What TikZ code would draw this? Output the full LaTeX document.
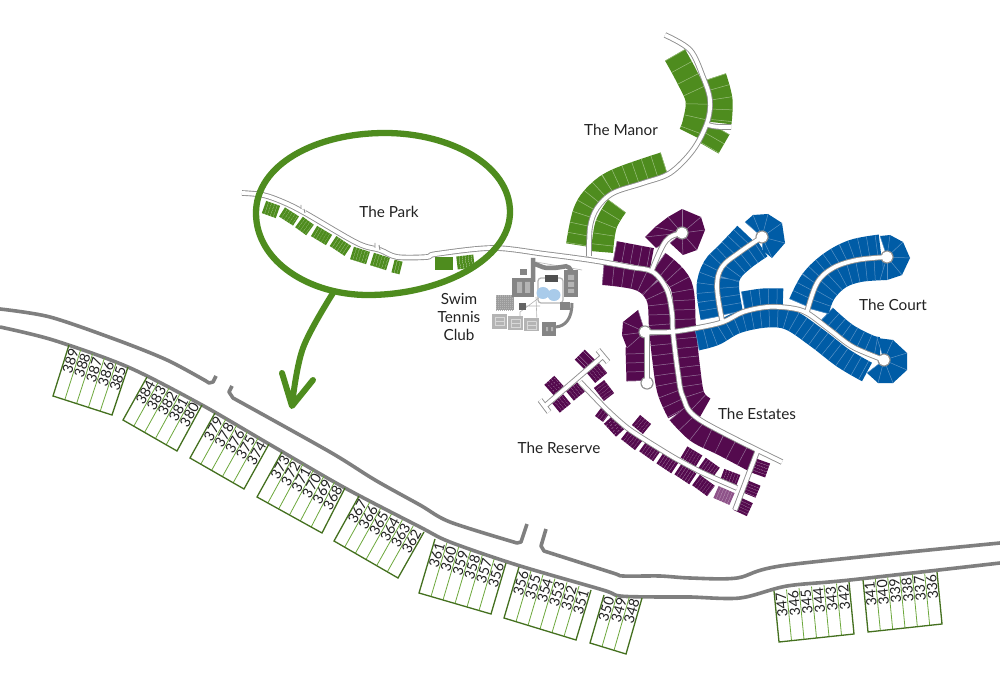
\documentclass[tikz,border=0pt]{standalone}
\usepackage{fontspec}
\setmainfont{Lato}
\usetikzlibrary{calc}
\definecolor{parkgreen}{HTML}{4E8C1E}
\definecolor{greendiv}{HTML}{9DC080}
\definecolor{lotedge}{HTML}{44701F}
\definecolor{lotdiv}{HTML}{6DA83C}
\definecolor{estate}{HTML}{540A4E}
\definecolor{estdiv}{HTML}{96749A}
\definecolor{lightest}{HTML}{8E5389}
\definecolor{court}{HTML}{005CA6}
\definecolor{courtdiv}{HTML}{5A93C6}
\definecolor{roadgray}{HTML}{7F7F7F}
\definecolor{thinroad}{HTML}{8F8F8F}
\definecolor{ink}{HTML}{222222}
\definecolor{club}{HTML}{858585}
\definecolor{clubmid}{HTML}{9C9C9C}
\definecolor{clublight}{HTML}{B4B4B4}
\definecolor{clubpale}{HTML}{D8D8D8}
\definecolor{pool}{HTML}{A9CBEA}
\tikzset{
  mainroad/.style={draw=roadgray,line width=3.6pt,line join=round},
  zone/.style={font=\fontsize{15.3}{18}\selectfont,text=ink,align=center,inner sep=0pt},
  lotnum/.style={font=\fontsize{14.2}{15}\selectfont,text=ink,inner sep=0pt,anchor=east},
  lotdivider/.style={draw=lotdiv,line width=.8pt},
  lotframe/.style={draw=lotedge,line width=1.3pt,line join=miter}
}
% numbered group of lots: top-left, top-right, bottom-right, bottom-left, labels
\newcommand{\lotgroup}[5]{%
  \coordinate (A) at (#1);\coordinate (B) at (#2);\coordinate (C) at (#3);\coordinate (D) at (#4);
  \foreach \lab [count=\c] in {#5}{\xdef\nlots{\c}}
  \foreach \lab [count=\c] in {#5}{
    \pgfmathsetmacro{\tA}{\c/\nlots}
    \pgfmathsetmacro{\tm}{(\c-.5)/\nlots}
    \ifnum\c<\nlots
      \draw[lotdivider] ($(A)!\tA!(B)$) -- ($(D)!\tA!(C)$);
    \fi
    \path let \p1=($(A)-(D)$), \n1={atan2(\y1,\x1)} in
      ($(A)!\tm!(B)$) coordinate (P) ($(D)!\tm!(C)$) coordinate (Q)
      node[lotnum,rotate=\n1] (n\lab) at ($(P)!2pt!(Q)$) {\lab};
  }
  \draw[lotframe] (A)--(D)--(C)--(B);
}
% band of lots along a spine: colour, divider, depth, spacing, coordinates
\newcommand{\strip}[5]{%
  \draw[line width=#3pt,#1] plot[smooth,tension=.6] coordinates {#5};
  \draw[line width=#3pt,#2,dash pattern=on .5pt off #4pt] plot[smooth,tension=.6] coordinates {#5};
}
% fan of lots round a cul-de-sac: colour, divider, centre, perimeter
\newcommand{\lotcap}[4]{%
  \fill[#1] #3 \foreach \p in {#4}{ -- \p } -- cycle;
  \foreach \p in {#4}{\draw[#2,line width=.5pt] #3 -- \p;}
}
% small striped lot
\newcommand{\stripelot}[4]{%
  \draw[#1,line width=#4pt,dash pattern=on 2.6pt off .45pt] (#2) -- (#3);
}
\def\roadpaths{
  plot[smooth,tension=.55] coordinates {(242,193) (263,195) (283,202) (305,213) (357,243) (380,250) (397,257) (427,257) (436,254) (493,248) (545,254) (590,260) (630,267) (653,272) (667,290) (672,313) (673,333) (678,373) (683,397) (700,420) (782,462)}
  plot[smooth,tension=.55] coordinates {(589,256) (590,227) (597,208) (613,193) (643,183) (670,173) (693,150) (707,123) (710,100) (703,77) (690,50) (665,35)}
  (708,125) .. controls (716,127) .. (731,127)
  plot[smooth,tension=.6] coordinates {(652,270) (662,247) (670,237) (682,233)}
  plot[smooth,tension=.55] coordinates {(645,332) (670,332) (697,328) (723,322) (743,312) (767,307) (790,308) (807,313) (830,330) (853,347) (884,360)}
  plot[smooth,tension=.6] coordinates {(722,320) (717,287) (722,267) (740,252) (762,237)}
  plot[smooth,tension=.6] coordinates {(807,312) (817,283) (833,268) (857,260) (887,257)}
  (647,332) -- (647,380)
  (598,350) -- (608,362) (603,356) -- (545,406) (540,400) -- (549,412)
  plot[smooth,tension=.4] coordinates {(580,382) (607,410) (630,430) (673,457) (703,473) (737,488)}
  (757,452) -- (735,510)
}
\def\culs{
  (762,237) circle[radius=\rr]
  (887,257) circle[radius=\rr]
  (884,360) circle[radius=\rr]
  (682,233) circle[radius=\rr]
  (645,332) circle[radius=\rr]
  (647,383) circle[radius=\rr]
}
\begin{document}
\begin{tikzpicture}[x=1pt,y=-1pt]
\useasboundingbox (0,0) rectangle (1000,700);
\fill[white] (0,0) rectangle (1000,700);

% --- The Manor
\strip{parkgreen}{greendiv}{23}{13}{(675,55) (687,77) (697,100) (694,123) (690,134)}
\strip{parkgreen}{greendiv}{23}{10.5}{(715,77) (721,100) (720,123)}
\strip{parkgreen}{greendiv}{22}{10}{(720,129) (709,148)}
\strip{parkgreen}{greendiv}{22}{9.5}{(664,163) (618,179) (597,193) (584,212) (577,245)}
\strip{parkgreen}{greendiv}{22}{10}{(617,206) (606,225) (602,252)}

% --- The Estates
\strip{estate}{estdiv}{20}{8}{(615,251) (652,258)}
\strip{estate}{estdiv}{22}{9.5}{(603,274) (640,280) (657,297) (660,327) (663,357) (668,390) (678,413)}
\strip{estate}{estdiv}{22}{12.5}{(678,413) (697,432) (723,445) (753,461)}
\strip{estate}{estdiv}{22}{9}{(659,262) (681,285) (685,328) (689,367) (694,397) (705,408)}
\lotcap{estate}{estdiv}{(682,233)}{(656,248),(645,237),(655,227),(668,217),(682,209),(701,217),(705,230),(697,250),(683,255),(670,243)}
\strip{estate}{estdiv}{19}{8.5}{(636,381) (635,347)}
\lotcap{estate}{estdiv}{(645,332)}{(645,348),(627,348),(622,335),(623,322),(638,310)}

% --- The Court
\strip{court}{courtdiv}{21}{8}{(697,340) (715,335) (737,323) (767,317) (790,320) (817,338) (843,358) (867,372)}
\strip{court}{courtdiv}{20}{8}{(826,315) (847,333) (870,345) (880,347)}
\lotcap{court}{courtdiv}{(884,360)}{(877,338),(893,340),(907,353),(907,370),(893,383),(878,383),(867,373)}
\strip{court}{courtdiv}{19}{8}{(743,301) (763,298) (783,298)}
\strip{court}{courtdiv}{21}{8}{(711,318) (707,288) (713,267) (727,252) (745,233)}
\strip{court}{courtdiv}{20}{8}{(733,313) (729,287) (732,273) (745,260) (762,248)}
\lotcap{court}{courtdiv}{(762,237)}{(745,222),(753,215),(768,214),(782,223),(785,243),(772,258),(762,250)}
\strip{court}{courtdiv}{21}{8}{(799,303) (811,280) (830,262) (853,250) (880,245)}
\strip{court}{courtdiv}{22}{8}{(818,311) (825,293) (840,278) (860,271) (887,269)}
\lotcap{court}{courtdiv}{(887,257)}{(880,236),(890,235),(903,242),(910,258),(902,275),(887,280),(880,280)}

% --- The Reserve
\foreach \xa/\ya/\xb/\yb/\w in {580/365/590/355/15, 591/378/603/368/13, 549/390/559/381/14, 570/396/581/387/12, 556/408/567/399/12,
  599/384/609/397/13, 598/412/606/418/10, 608/420/620/433/11, 636/420/647/429/13, 625/434/639/445/13, 643/446/657/456/13,
  660/458/675/468/13, 678/469/693/479/13, 696/480/711/491/13, 684/452/699/461/13, 702/463/716/473/13, 722/475/738/481/13,
  763/461/758/475/15, 754/483/749/495/14, 746/500/740/513/15}{
  \stripelot{estate}{\xa,\ya}{\xb,\yb}{\w}
}
\stripelot{lightest}{716,492}{732,499}{13}

% --- The Park lots
\foreach \xa/\ya/\xb/\yb/\w in {264/207/278/212/13, 282/212/296/221/11, 299/222/310/230/13, 314/231/329/240/12, 333/241/348/251/12,
  352/253/368/258/13, 372/259/388/264/13, 393/266/401/268/13, 435/264/453/264/13, 457/263/474/261/13}{
  \stripelot{parkgreen}{\xa,\ya}{\xb,\yb}{\w}
}

% --- Club
\fill[clubmid] (496,295) rectangle (514,310);
\foreach \i in {0,2,...,16}{\draw[clublight,line width=.7pt,dash pattern=on 1pt off 1pt] (496+\i,295.5) -- (496+\i,310);}
\foreach \x/\y/\wd/\ht in {492/314/15/15,508/316/15/14,524/318/15/12.5}{
  \fill[clublight] (\x,\y) rectangle ++(\wd,\ht);
  \draw[clubpale,line width=.7pt] (\x+3,\y+3) rectangle ++(9,8);
  \draw[clubpale,line width=.7pt] (\x+3,\y+7) -- ++(9,0);
}
\draw[clublight,line width=.6pt] (536,265) -- (536,262) -- (582,270) (540,297) -- (520,312) -- (520,318) (536,297) -- (537,322) (526,306) -- (540,306);
\draw[clublight,line width=1.2pt,rounded corners=3pt] (538,278) rectangle (563,303);
\draw[club,line width=4.5pt,rounded corners=2pt] (533,258) -- (533,282) (535,264) -- (545,268) -- (555,268) -- (568,266) -- (572,272);
\fill[club] (512,278) rectangle (534,297);
\fill[clublight] (517,282) rectangle (522,293) (525,282) rectangle (530,293);
\fill[club] (564,270) rectangle (578,297);
\fill[clublight] (568,275) rectangle (574,280) (568,282) rectangle (574,287) (568,289) rectangle (574,293);
\fill[pool] (543,293) ellipse[x radius=6.5,y radius=6] (554,295) ellipse[x radius=6.5,y radius=6];
\fill[club!60!black] (545,275) rectangle (558,282);
\fill[club] (520,269) rectangle (527,275);
\fill[club!75!black] (519,303) rectangle (526,310);
\fill[club] (560,302) rectangle (570,310);
\fill[club] (542,322) rectangle (556,336);
\fill[clublight] (546,327) rectangle (548,331) (551,327) rectangle (553,331);
\draw[club,line width=3pt] (556,327) .. controls (566,326) and (572,318) .. (572,303);

% --- Estate, Manor, Park roads
\def\rr{6.6}
\draw[thinroad,line width=5.6pt,line join=round] \roadpaths;
\fill[thinroad] \culs;
\def\rr{5.5}
\draw[white,line width=3.8pt,line join=round] \roadpaths;
\fill[white] \culs;
% driveway breaks in the Park road
\draw[white,line width=2pt] (301,207) -- (306,210) (375,246) -- (380,248);
\draw[thinroad,line width=.9pt] (301,205) -- (301,209) (304,209) -- (305,213) (375,243) -- (375,248) (379,245) -- (380,250);

% --- Ring and arrow
\draw[parkgreen,line width=6.3pt] (256,213) .. controls (256,262) and (310,295) .. (368,295) .. controls (440,295) and (510,260) .. (510,212) .. controls (510,165) and (450,133) .. (385,133) .. controls (315,133) and (256,165) .. (256,213) -- cycle;
\draw[parkgreen,line width=6pt,line cap=round,line join=round]
  plot[smooth,tension=.6] coordinates {(333,293) (303,348) (292,405)}
  (282,373) -- (292,406) -- (313,380);

% --- Main road
\draw[mainroad] plot[smooth,tension=.5] coordinates {(0,327) (53,340) (128,367) (202,405) (269,444) (345,488) (420,527) (450,542) (517,565) (603,590) (620,596) (660,597) (690,597) (740,598) (787,586) (850,580) (1000,563)};
\draw[mainroad] plot[smooth,tension=.5] coordinates {(0,309) (50,317) (117,340) (167,360) (206,381)} -- (209,383) -- (213,382) -- (216,376);
\draw[mainroad] (232,386) -- (229,392) -- (233,398) -- plot[smooth,tension=.5] coordinates {(233,398) (330,452) (375,480) (420,505) (450,522) (517,543)} -- (521,542) -- (527,524);
\draw[mainroad] (546,529) -- (541,546) -- (544,551) -- plot[smooth,tension=.5] coordinates {(544,551) (613,573) (623,576) (660,576) (690,578) (737,578) (787,565) (1000,543)};

% --- Numbered lots
\lotgroup{69,345}{128,367}{112,415}{53,396}{389,388,387,386,385}
\lotgroup{147,377}{202,405}{177,451}{123,420}{384,383,382,381,380}
\lotgroup{215,413}{269,444}{244,489}{190,458}{379,378,376,375,374}
\lotgroup{282,452}{345,488}{322,533}{257,497}{373,372,371,370,369,368}
\lotgroup{359,496}{424,532}{398,578}{334,541}{367,366,365,364,363,362}
\lotgroup{435,539}{506,563}{491,614}{419,593}{361,360,359,358,357,356}
\lotgroup{519,567}{591,590}{576,640}{504,618}{356,355,354,353,352,351}
\lotgroup{604,595}{642,598}{626,654}{590,643}{350,349,348}
\lotgroup{774,591}{849,582}{854,634}{779,642}{347,346,345,344,343,342}
\lotgroup{863,580}{937,572}{942,624}{868,632}{341,340,339,338,337,336}

% --- Zone names
\node[zone] (park) at (389,212) {The Park};
\node[zone] (manor) at (621,130) {The Manor};
\node[zone] (swim) at (459,317) {Swim\\Tennis\\Club};
\node[zone] (courtname) at (893,305) {The Court};
\node[zone] (estates) at (757,414) {The Estates};
\node[zone] (reserve) at (559,448) {The Reserve};
\end{tikzpicture}
\end{document}
